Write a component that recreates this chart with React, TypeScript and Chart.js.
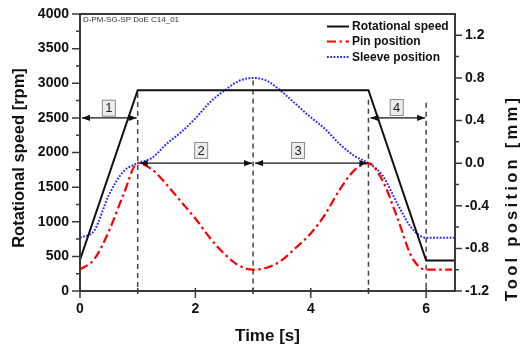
import React, { useEffect, useRef } from "react";
import { Chart, registerables } from "chart.js";

Chart.register(...registerables);

// ---- data ----
const speedTimes = [0, 1, 5, 6, 6.5];
const speedRpm = [450, 2900, 2900, 440, 440];

const pinTimes = [0, 0.25, 0.5, 0.75, 1, 1.25, 1.5, 1.75, 2, 2.25, 2.5, 2.75, 3, 3.25, 3.5, 3.75, 4, 4.25, 4.5, 4.75, 5, 5.25, 5.5, 5.75, 6, 6.45];
const pinMm = [-1.0, -0.9, -0.64, -0.3, 0.0, -0.06, -0.2, -0.36, -0.52, -0.7, -0.85, -0.96, -1.0, -0.98, -0.91, -0.79, -0.66, -0.48, -0.25, -0.07, 0.0, -0.17, -0.51, -0.88, -1.0, -1.0];

const sleeveTimes = [0, 0.25, 0.5, 0.75, 1, 1.25, 1.5, 1.75, 2, 2.25, 2.5, 2.75, 3, 3.25, 3.5, 3.75, 4, 4.25, 4.5, 4.75, 5, 5.25, 5.5, 5.75, 6, 6.5];
const sleeveMm = [-0.7, -0.63, -0.3, -0.08, 0.0, 0.05, 0.18, 0.29, 0.42, 0.57, 0.68, 0.77, 0.8, 0.77, 0.67, 0.55, 0.43, 0.32, 0.18, 0.07, 0.0, -0.12, -0.38, -0.61, -0.7, -0.7];

const xTicks = [0, 2, 4, 6];
const xMinorTicks = [1, 3, 5];
const rpmTicks = [0, 500, 1000, 1500, 2000, 2500, 3000, 3500, 4000];
const rpmMinorTicks = [250, 750, 1250, 1750, 2250, 2750, 3250, 3750];
const mmTicks = [-1.2, -0.8, -0.4, 0.0, 0.4, 0.8, 1.2];
const mmMinorTicks = [-1.0, -0.6, -0.2, 0.2, 0.6, 1.0];

// phase markers
const markerTimes = [1, 3, 5, 6];
const markerTopRpm = [2860, 3040, 2760, 2720];
const phaseStart = [0, 1, 3, 5];
const phaseEnd = [1, 3, 5, 6];
const phaseLevelRpm = [2500, 1846, 1846, 2500];
const phaseLabels = ["1", "2", "3", "4"];
const phaseLabelT = [0.5, 2.1, 3.78, 5.49];
const phaseLabelRpm = [2640, 2030, 2030, 2650];

const legendLabels = ["Rotational speed", "Pin position", "Sleeve position"];
const stampText = "D-PM-SG-SP DoE C14_01";

const FONT = "'Liberation Sans', Arial, sans-serif";
const BLACK = "#111111";
const RED = "#ff0000";
const BLUE = "#2b2bff";
const AXIS = "#3a3a3a";

const redDash = [9, 3.5, 2.5, 3.5];
const blueDash = [1.8, 1.5];

function arrowHead(ctx: CanvasRenderingContext2D, x: number, y: number, dir: number) {
  ctx.beginPath();
  ctx.moveTo(x, y);
  ctx.lineTo(x - dir * 8, y - 3.2);
  ctx.lineTo(x - dir * 8, y + 3.2);
  ctx.closePath();
  ctx.fill();
}

const decor = {
  id: "decor",
  beforeDatasetsDraw(chart: any) {
    const ctx: CanvasRenderingContext2D = chart.ctx;
    const { x, y } = chart.scales;
    const bottom = chart.chartArea.bottom;
    ctx.save();
    ctx.strokeStyle = "#444";
    ctx.lineWidth = 1.5;
    ctx.setLineDash([5, 4]);
    markerTimes.forEach((t, i) => {
      const px = x.getPixelForValue(t);
      ctx.beginPath();
      ctx.moveTo(px, y.getPixelForValue(markerTopRpm[i]));
      ctx.lineTo(px, bottom);
      ctx.stroke();
    });
    ctx.restore();
  },
  afterDatasetsDraw(chart: any) {
    const ctx: CanvasRenderingContext2D = chart.ctx;
    const { x, y, y1 } = chart.scales;
    const ca = chart.chartArea;
    ctx.save();

    // frame
    ctx.strokeStyle = AXIS;
    ctx.lineWidth = 2;
    ctx.setLineDash([]);
    ctx.strokeRect(ca.left, ca.top, ca.right - ca.left, ca.bottom - ca.top);

    // ticks
    ctx.lineWidth = 1.5;
    ctx.beginPath();
    rpmTicks.forEach((v) => {
      const py = y.getPixelForValue(v);
      ctx.moveTo(ca.left - 8, py);
      ctx.lineTo(ca.left, py);
    });
    rpmMinorTicks.forEach((v) => {
      const py = y.getPixelForValue(v);
      ctx.moveTo(ca.left - 4, py);
      ctx.lineTo(ca.left, py);
    });
    mmTicks.forEach((v) => {
      const py = y1.getPixelForValue(v);
      ctx.moveTo(ca.right, py);
      ctx.lineTo(ca.right + 7, py);
    });
    mmMinorTicks.forEach((v) => {
      const py = y1.getPixelForValue(v);
      ctx.moveTo(ca.right, py);
      ctx.lineTo(ca.right + 4, py);
    });
    xTicks.forEach((v) => {
      const px = x.getPixelForValue(v);
      ctx.moveTo(px, ca.bottom - 3);
      ctx.lineTo(px, ca.bottom + 7);
    });
    xMinorTicks.forEach((v) => {
      const px = x.getPixelForValue(v);
      ctx.moveTo(px, ca.bottom - 3);
      ctx.lineTo(px, ca.bottom + 3);
    });
    ctx.stroke();

    // arrows
    ctx.strokeStyle = BLACK;
    ctx.fillStyle = BLACK;
    ctx.lineWidth = 1.3;
    phaseStart.forEach((t0, i) => {
      const x0 = x.getPixelForValue(t0) + 2;
      const x1 = x.getPixelForValue(phaseEnd[i]) - 1;
      const py = y.getPixelForValue(phaseLevelRpm[i]);
      ctx.beginPath();
      ctx.moveTo(x0, py);
      ctx.lineTo(x1, py);
      ctx.stroke();
      arrowHead(ctx, x0, py, -1);
      arrowHead(ctx, x1, py, 1);
    });

    // boxed phase labels
    ctx.font = `13px ${FONT}`;
    ctx.textAlign = "center";
    ctx.textBaseline = "middle";
    phaseLabels.forEach((lab, i) => {
      const px = x.getPixelForValue(phaseLabelT[i]);
      const py = y.getPixelForValue(phaseLabelRpm[i]);
      ctx.fillStyle = "#ececec";
      ctx.fillRect(px - 6.5, py - 8, 13, 16);
      ctx.strokeStyle = "#8a8a8a";
      ctx.lineWidth = 1;
      ctx.strokeRect(px - 6.5, py - 8, 13, 16);
      ctx.fillStyle = "#222";
      ctx.fillText(lab, px, py + 0.5);
    });

    // stamp
    ctx.font = `8px ${FONT}`;
    ctx.textAlign = "left";
    ctx.fillStyle = "#333";
    ctx.fillText(stampText, ca.left + 3, ca.top + 6);

    // legend
    const rows = [ca.top + 12.5, ca.top + 27.5, ca.top + 43];
    const lx0 = 327;
    const lx1 = 349;
    const styles = [
      { c: BLACK, d: [] as number[], w: 2 },
      { c: RED, d: redDash, w: 2.2 },
      { c: BLUE, d: blueDash, w: 2 },
    ];
    legendLabels.forEach((lab, i) => {
      const s = styles[i];
      ctx.strokeStyle = s.c;
      ctx.lineWidth = s.w;
      ctx.setLineDash(s.d);
      ctx.beginPath();
      ctx.moveTo(lx0, rows[i]);
      ctx.lineTo(lx1, rows[i]);
      ctx.stroke();
      ctx.setLineDash([]);
      ctx.fillStyle = BLACK;
      ctx.font = `bold 12px ${FONT}`;
      ctx.textAlign = "left";
      ctx.textBaseline = "middle";
      ctx.fillText(lab, 352, rows[i] + 0.5);
    });

    // axis titles
    ctx.fillStyle = BLACK;
    ctx.font = `bold 16.5px ${FONT}`;
    ctx.textAlign = "center";
    ctx.textBaseline = "alphabetic";
    ctx.save();
    ctx.translate(24, 158);
    ctx.rotate(-Math.PI / 2);
    ctx.fillText("Rotational speed [rpm]", 0, 0);
    ctx.restore();

    ctx.save();
    (ctx as any).letterSpacing = "3.3px";
    ctx.translate(517, 198);
    ctx.rotate(-Math.PI / 2);
    ctx.fillText("Tool position [mm]", 0, 0);
    (ctx as any).letterSpacing = "0px";
    ctx.restore();

    ctx.font = `bold 17px ${FONT}`;
    ctx.fillText("Time [s]", (ca.left + ca.right) / 2, 341);

    ctx.restore();
  },
};

export default function App() {
  const ref = useRef<HTMLCanvasElement | null>(null);

  useEffect(() => {
    document.body.style.margin = "0";
    const canvas = ref.current;
    if (!canvas) return;
    const tickFont = { family: FONT, size: 14, weight: "bold" as const };

    const chart = new Chart(canvas, {
      type: "line",
      data: {
        datasets: [
          {
            label: legendLabels[0],
            data: speedTimes.map((t, i) => ({ x: t, y: speedRpm[i] })),
            borderColor: BLACK,
            borderWidth: 2,
            yAxisID: "y",
            pointRadius: 0,
            tension: 0,
          },
          {
            label: legendLabels[1],
            data: pinTimes.map((t, i) => ({ x: t, y: pinMm[i] })),
            borderColor: RED,
            borderWidth: 2.2,
            borderDash: redDash,
            yAxisID: "y1",
            pointRadius: 0,
            cubicInterpolationMode: "monotone",
          },
          {
            label: legendLabels[2],
            data: sleeveTimes.map((t, i) => ({ x: t, y: sleeveMm[i] })),
            borderColor: BLUE,
            borderWidth: 2,
            borderDash: blueDash,
            yAxisID: "y1",
            pointRadius: 0,
            cubicInterpolationMode: "monotone",
          },
        ],
      },
      options: {
        animation: false,
        responsive: true,
        maintainAspectRatio: false,
        layout: { padding: { top: 14, left: 0, right: 0, bottom: 0 } },
        plugins: { legend: { display: false }, tooltip: { enabled: false } },
        scales: {
          x: {
            type: "linear",
            min: 0,
            max: 6.5,
            afterBuildTicks: (s: any) => {
              s.ticks = xTicks.map((v) => ({ value: v }));
            },
            afterFit: (s: any) => {
              s.height = 57;
            },
            grid: { display: false, tickLength: 7 },
            border: { display: false },
            ticks: { font: tickFont, color: BLACK, padding: 3, maxRotation: 0, callback: (v: any) => String(v) },
          },
          y: {
            type: "linear",
            position: "left",
            min: 0,
            max: 4000,
            afterBuildTicks: (s: any) => {
              s.ticks = rpmTicks.map((v) => ({ value: v }));
            },
            afterFit: (s: any) => {
              s.width = 80;
            },
            grid: { display: false, tickLength: 8 },
            border: { display: false },
            ticks: { font: tickFont, color: BLACK, padding: 3, callback: (v: any) => String(v) },
          },
          y1: {
            type: "linear",
            position: "right",
            min: -1.2,
            max: 1.4,
            afterBuildTicks: (s: any) => {
              s.ticks = mmTicks.map((v) => ({ value: v }));
            },
            afterFit: (s: any) => {
              s.width = 67;
            },
            grid: { display: false, tickLength: 7 },
            border: { display: false },
            ticks: { font: tickFont, color: BLACK, padding: 3, callback: (v: any) => Number(v).toFixed(1) },
          },
        },
      },
      plugins: [decor],
    });
    return () => chart.destroy();
  }, []);

  return (
    <div style={{ width: 522, height: 348, position: "relative", background: "#fff" }}>
      <canvas ref={ref} />
    </div>
  );
}
